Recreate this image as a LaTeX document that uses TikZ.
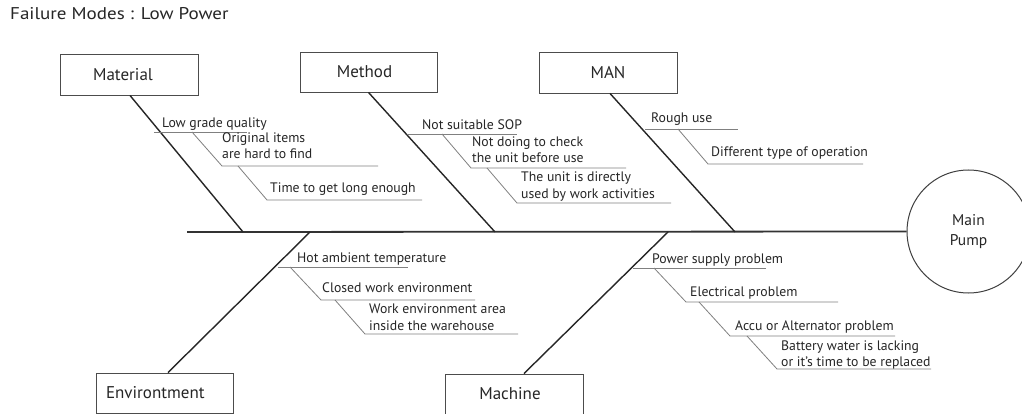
\documentclass[tikz,border=0pt]{standalone}
\usepackage{fontspec}
\setmainfont{PT Sans}
\newfontfamily\titlefont{PT Sans}[FakeStretch=1.12]
\begin{document}
\begin{tikzpicture}[x=1pt,y=-1pt,
  box/.style={draw=black!70,line width=0.9pt,minimum width=138pt,minimum height=41pt,inner sep=0pt,font=\fontsize{17}{20}\selectfont,text=black!85},
  bone/.style={draw=black!85,line width=1.4pt},
  spine/.style={draw=black!80,line width=1.8pt},
  sub/.style={draw=black!50,line width=0.8pt},
  lbl/.style={anchor=base west,inner sep=0pt,font=\fontsize{13.75}{16}\selectfont,text=black!85}]
\useasboundingbox (0,0) rectangle (1022,414);
\fill[white] (0,0) rectangle (1022,414);
% title
\node[lbl,font=\titlefont\fontsize{17}{20}\selectfont] (title) at (10,20) {Failure Modes : Low Power};
% effect
\node[draw=black!75,line width=1pt,circle,minimum size=123pt,inner sep=0pt,align=center,font=\fontsize{15.5}{20}\selectfont,text=black!85] (pump) at (968.5,231.5) {Main\\Pump};
\coordinate (tail) at (187,232);
\draw[spine] (tail) -- (pump.west);
% category boxes
\node[box] (mat) at (129,74.5) {Material\hspace*{12pt}};
\node[box,minimum width=137pt,minimum height=40pt] (met) at (368.5,72) {Method\hspace*{8pt}};
\node[box] (man) at (608,72.5) {MAN};
\node[box,minimum width=137pt,minimum height=40pt,text width=117pt,align=left] (env) at (164.5,393) {Environtment};
\node[box,minimum height=40pt] (mac) at (514,394) {Machine\hspace*{8pt}};
% spine joints
\coordinate (jmat) at (243,232);
\coordinate (jmet) at (495,232);
\coordinate (jman) at (735,232);
\coordinate (jenv) at (310,232);
\coordinate (jmac) at (668,232);
\draw[bone] ([xshift=1pt]mat.south) -- (jmat);
\draw[bone] (met.south) -- (jmet);
\draw[bone] ([xshift=2pt]man.south) -- (jman);
\draw[bone] ([xshift=3.5pt]env.north) -- (jenv);
\draw[bone] ([xshift=10pt]mac.north) -- (jmac);
% ---- Material causes
\node[lbl] (a1) at (162,128) {Low grade quality};
\draw[sub] (154,132) -- (247,132);
\node[lbl] (a2) at (222,143) {Original items};
\node[lbl] (a2b) at (222,159) {are hard to find};
\draw[sub] (192,132) -- (222,166) -- (378,166);
\node[lbl] (a3) at (270,193) {Time to get long enough};
\draw[sub] (238,166) -- (267,200) -- (422,200);
% ---- Method causes
\node[lbl] (b1) at (422,130) {Not suitable SOP};
\draw[sub] (407,134) -- (517,134);
\node[lbl] (b2) at (472,147) {Not doing to check};
\node[lbl] (b2b) at (472,163) {the unit before use};
\draw[sub] (442,134) -- (471,168) -- (626,168);
\node[lbl] (b3) at (521,182) {The unit is directly};
\node[lbl] (b3b) at (521,198) {used by work activities};
\draw[sub] (487,168) -- (517,203) -- (671,203);
% ---- MAN causes
\node[lbl] (c1) at (651,123) {Rough use};
\draw[sub] (645,129) -- (738,129);
\node[lbl] (c2) at (711,157) {Different type of operation};
\draw[sub] (678,129) -- (708,164) -- (863,164);
% ---- Environment causes
\node[lbl] (d1) at (297,262) {Hot ambient temperature};
\draw[sub] (278,267) -- (408,267);
\node[lbl] (d2) at (322,292) {Closed work environment};
\draw[sub] (290,267) -- (321,300) -- (475,300);
\node[lbl] (d3) at (369,313) {Work environment area};
\node[lbl] (d3b) at (369,330) {inside the warehouse};
\draw[sub] (335,300) -- (365,334) -- (518,334);
% ---- Machine causes
\node[lbl] (e1) at (652,263) {Power supply problem};
\draw[sub] (633,268) -- (766,268);
\node[lbl] (e2) at (690,296) {Electrical problem};
\draw[sub] (654,268) -- (686,302) -- (838,302);
\node[lbl] (e3) at (735,330) {Accu or Alternator problem};
\draw[sub] (699,302) -- (730,336) -- (895,336);
\node[lbl] (e4) at (781,350) {Battery water is lacking};
\node[lbl] (e4b) at (781,366) {or it's time to be replaced};
\draw[sub] (747,336) -- (777,369) -- (931,369);
\end{tikzpicture}
\end{document}
